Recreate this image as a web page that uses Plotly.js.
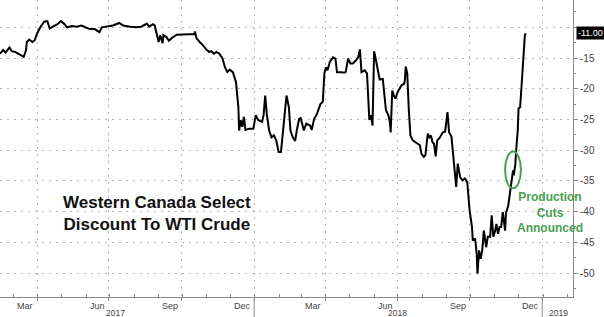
<!DOCTYPE html>
<html>
<head>
<meta charset="utf-8">
<script src="https://cdn.plot.ly/plotly-3.0.1.min.js"></script>
<style>
html,body{margin:0;padding:0;background:#fff;}
#chart{width:604px;height:317px;}
</style>
</head>
<body>
<div id="chart"></div>
<script>
// WCS discount to WTI ($/bbl)
const dates = [
"2017-02-12","2017-02-16","2017-02-19","2017-02-24","2017-02-27","2017-03-03","2017-03-07","2017-03-11","2017-03-14","2017-03-17",
"2017-03-18","2017-03-21","2017-03-25","2017-03-28","2017-03-31","2017-04-04","2017-04-09","2017-04-13","2017-04-16","2017-04-21",
"2017-04-26","2017-04-30","2017-05-04","2017-05-08","2017-05-14","2017-05-20","2017-05-26","2017-05-31","2017-06-06","2017-06-12",
"2017-06-18","2017-06-21","2017-06-27","2017-07-05","2017-07-13","2017-07-18","2017-07-27","2017-08-04","2017-08-10","2017-08-17",
"2017-08-20","2017-08-25","2017-08-27","2017-08-30","2017-09-01","2017-09-03","2017-09-06","2017-09-07","2017-09-11","2017-09-14",
"2017-09-18","2017-09-24","2017-10-02","2017-10-10","2017-10-16","2017-10-17","2017-10-19","2017-10-23","2017-10-27","2017-11-01",
"2017-11-04","2017-11-07","2017-11-10","2017-11-13","2017-11-17","2017-11-21","2017-11-24","2017-11-27","2017-11-30","2017-12-04",
"2017-12-08","2017-12-09","2017-12-11","2017-12-12","2017-12-14","2017-12-16","2017-12-18","2017-12-20","2017-12-25","2017-12-30",
"2018-01-02","2018-01-05","2018-01-10","2018-01-12","2018-01-14","2018-01-16","2018-01-19","2018-01-22","2018-01-25","2018-01-28",
"2018-01-31","2018-02-03","2018-02-05","2018-02-08","2018-02-10","2018-02-13","2018-02-15","2018-02-18","2018-02-21","2018-02-23",
"2018-02-26","2018-02-28","2018-03-04","2018-03-07","2018-03-12","2018-03-14","2018-03-17","2018-03-20","2018-03-22","2018-03-25",
"2018-03-28","2018-03-30","2018-04-01","2018-04-03","2018-04-06","2018-04-10","2018-04-13","2018-04-15","2018-04-21","2018-04-24",
"2018-04-26","2018-04-29","2018-05-02","2018-05-05","2018-05-09","2018-05-12","2018-05-14","2018-05-16","2018-05-20","2018-05-23",
"2018-05-26","2018-05-28","2018-05-30","2018-06-01","2018-06-03","2018-06-06","2018-06-08","2018-06-12","2018-06-16","2018-06-19",
"2018-06-21","2018-06-22","2018-06-24","2018-06-26","2018-06-28","2018-07-01","2018-07-06","2018-07-09","2018-07-10","2018-07-11",
"2018-07-13","2018-07-15","2018-07-17","2018-07-20","2018-07-25","2018-07-29","2018-07-31","2018-08-03","2018-08-05","2018-08-08",
"2018-08-10","2018-08-12","2018-08-14","2018-08-16","2018-08-18","2018-08-20","2018-08-23","2018-08-27","2018-08-30","2018-09-02",
"2018-09-04","2018-09-07","2018-09-09","2018-09-11","2018-09-13","2018-09-15","2018-09-18","2018-09-21","2018-09-24","2018-09-27",
"2018-09-30","2018-10-03","2018-10-04","2018-10-07","2018-10-09","2018-10-10","2018-10-12","2018-10-14","2018-10-16","2018-10-18",
"2018-10-21","2018-10-23","2018-10-26","2018-10-28","2018-10-30","2018-11-01","2018-11-03","2018-11-05","2018-11-07","2018-11-09",
"2018-11-11","2018-11-14","2018-11-15","2018-11-18","2018-11-20","2018-11-22","2018-11-24","2018-11-25","2018-11-27","2018-11-28",
"2018-11-30","2018-12-01","2018-12-03","2018-12-05","2018-12-07","2018-12-09","2018-12-10"
];
const discount = [
-14.3,-13.7,-14.1,-13.3,-13.9,-14.0,-14.3,-14.6,-14.8,-13.7,
-12.4,-12.0,-12.4,-12.1,-11.0,-10.0,-9.1,-9.0,-10.2,-9.8,
-9.5,-9.0,-9.4,-10.0,-9.8,-9.9,-9.7,-10.0,-10.3,-10.3,
-10.8,-10.0,-9.9,-9.7,-9.3,-9.7,-9.9,-10.0,-9.9,-9.4,
-9.9,-9.5,-9.7,-11.3,-12.4,-11.3,-12.6,-11.3,-11.6,-12.2,
-11.7,-11.2,-11.2,-11.2,-11.1,-10.7,-11.8,-12.4,-12.9,-13.7,
-14.0,-13.9,-14.3,-14.0,-14.3,-15.1,-16.5,-17.3,-16.9,-17.3,
-18.9,-20.3,-23.0,-26.8,-25.1,-26.2,-24.6,-26.7,-26.5,-26.5,
-24.3,-25.1,-25.4,-24.3,-21.1,-24.1,-26.8,-27.9,-27.6,-28.4,
-30.3,-30.3,-27.9,-23.2,-21.1,-23.0,-26.8,-27.9,-28.5,-26.8,
-24.9,-24.8,-26.8,-25.7,-26.0,-26.7,-24.9,-24.3,-23.5,-22.5,
-22.1,-17.5,-16.5,-17.0,-15.6,-14.9,-15.1,-17.3,-17.3,-17.4,
-17.3,-15.1,-15.9,-15.9,-15.4,-14.8,-13.6,-17.3,-17.0,-17.5,
-25.1,-24.3,-26.0,-13.9,-15.1,-17.0,-18.5,-18.4,-23.5,-24.3,
-25.4,-27.1,-20.3,-21.1,-21.6,-20.5,-19.4,-19.2,-18.6,-16.4,
-17.5,-23.5,-27.6,-28.4,-28.8,-29.2,-30.6,-31.1,-30.8,-27.3,
-27.9,-27.6,-28.7,-29.0,-31.0,-28.4,-28.0,-27.1,-27.0,-23.8,
-27.1,-27.8,-30.5,-33.5,-36.0,-32.2,-34.4,-34.9,-34.6,-35.2,
-39.8,-42.5,-44.7,-44.4,-46.9,-50.1,-46.3,-47.7,-46.3,-43.1,
-45.8,-44.1,-44.1,-40.6,-44.1,-43.3,-42.0,-43.6,-42.5,-42.5,
-40.1,-43.1,-40.3,-39.0,-36.8,-34.9,-33.3,-34.1,-32.2,-30.0,
-26.8,-23.2,-23.0,-19.2,-14.8,-11.3,-11.0
];
const lastLabel = "-11.00";

// axis furniture
const quarterEnds = ["2017-03-31","2017-06-30","2017-09-30","2017-12-31","2018-03-31","2018-06-30","2018-09-30","2018-12-31"];
const monthLabels = ["Mar","Jun","Sep","Dec","Mar","Jun","Sep","Dec"];
const monthLabelDates = ["2017-03-16","2017-06-15","2017-09-15","2017-12-16","2018-03-16","2018-06-15","2018-09-15","2018-12-16"];
const yearLabels = ["2017","2018","2019"];
const yearLabelDates = ["2017-07-08","2018-07-01","2019-01-20"];
const yearBreaks = ["2017-12-31","2018-12-31"];
const yTicks = [-50,-45,-40,-35,-30,-25,-20,-15,-10];
const yTickText = ["-50","-45","-40","-35","-30","-25","-20","-15",""];

const titleText = "Western Canada Select<br>Discount To WTI Crude";
const noteText = "Production<br>Cuts<br>Announced";
const noteBox = {x0:"2018-11-14", x1:"2018-12-04", y0:-36.2, y1:-30.2};

const green = "rgb(72,160,80)";
const gridC = "#b5b5b5";
const axisC = "#8a8a8a";

const annotations = [];
monthLabels.forEach((t,i)=>annotations.push({
  x: monthLabelDates[i], xref:"x", y:0, yref:"paper", yanchor:"top", yshift:-2,
  text:t, showarrow:false, font:{family:"Liberation Sans, Arial", size:9, color:"#444"}
}));
yearLabels.forEach((t,i)=>annotations.push({
  x: yearLabelDates[i], xref:"x", y:0, yref:"paper", yanchor:"top", yshift:-9,
  text:t, showarrow:false, font:{family:"Liberation Sans, Arial", size:8.5, color:"#444"}
}));
annotations.push({
  x:"2017-08-30", xref:"x", y:-40.3, yref:"y", text:titleText, showarrow:false,
  align:"center", font:{family:"Liberation Sans, Arial", size:17, color:"#111", weight:"bold"}
});
annotations.push({
  x:"2019-01-10", xref:"x", y:-40.1, yref:"y", text:noteText, showarrow:false,
  align:"center", font:{family:"Liberation Sans, Arial", size:12, color:green, weight:"bold"}
});
annotations.push({
  x:1, xref:"paper", y:discount[discount.length-1], yref:"y", xanchor:"left", xshift:3,
  text:lastLabel, showarrow:false, bgcolor:"#000", borderpad:1,
  font:{family:"Liberation Sans, Arial", size:9, color:"#fff"}
});

const shapes = [];
yearBreaks.forEach(d=>shapes.push({
  type:"line", xref:"x", yref:"paper", x0:d, x1:d, y0:0, y1:-0.07,
  line:{color:axisC, width:1}
}));
shapes.push({
  type:"circle", xref:"x", yref:"y", x0:noteBox.x0, x1:noteBox.x1, y0:noteBox.y0, y1:noteBox.y1,
  line:{color:green, width:2}
});

const trace = {
  x: dates, y: discount, type:"scatter", mode:"lines",
  line:{color:"#000", width:2}, hoverinfo:"skip"
};

const layout = {
  width:604, height:317,
  margin:{l:0, r:31, t:0, b:20},
  paper_bgcolor:"#fff", plot_bgcolor:"#fff",
  showlegend:false,
  xaxis:{
    type:"date", range:["2017-02-12","2019-02-08"],
    tickmode:"array", tickvals:quarterEnds, ticktext:quarterEnds.map(()=>""),
    showgrid:true, gridcolor:gridC, griddash:"2px,5px", gridwidth:1,
    ticks:"outside", ticklen:3, tickcolor:axisC,
    minor:{dtick:"M1", tick0:"2017-01-01", ticks:"inside", ticklen:3, tickcolor:axisC, showgrid:false},
    showline:true, linecolor:axisC, linewidth:1, zeroline:false, fixedrange:true
  },
  yaxis:{
    side:"right", range:[-53.9,-5.56],
    tickmode:"array", tickvals:yTicks, ticktext:yTickText,
    showgrid:true, gridcolor:gridC, griddash:"2px,5px", gridwidth:1,
    ticks:"outside", ticklen:4, tickcolor:axisC,
    minor:{dtick:2.5, ticks:"outside", ticklen:2, tickcolor:axisC, showgrid:false},
    tickfont:{family:"Liberation Sans, Arial", size:10, color:"#444"},
    showline:true, linecolor:axisC, linewidth:1, zeroline:false, fixedrange:true
  },
  annotations: annotations,
  shapes: shapes
};

Plotly.newPlot("chart", [trace], layout, {displayModeBar:false, staticPlot:true});
</script>
</body>
</html>
